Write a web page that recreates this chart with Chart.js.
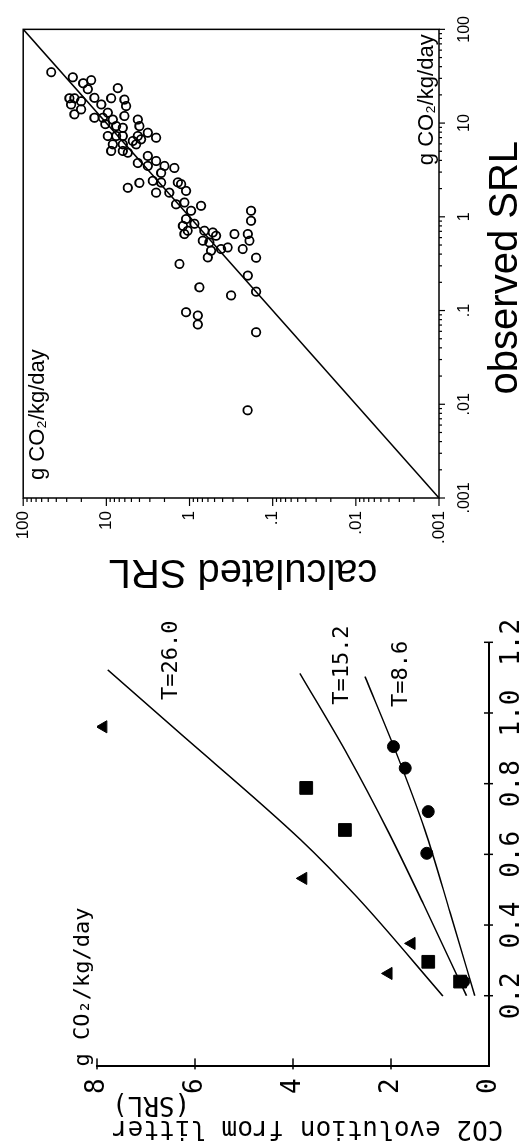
<!DOCTYPE html>
<html>
<head>
<meta charset="utf-8">
<script src="https://cdn.jsdelivr.net/npm/chart.js@4.4.0/dist/chart.umd.min.js"></script>
<style>
  html, body { margin: 0; padding: 0; background: #fff; }
  body { width: 520px; height: 1143px; overflow: hidden; position: relative; }
  /* the figure is laid out landscape and turned a quarter left */
  #stage { position: absolute; left: 0; top: 0; width: 1143px; height: 520px;
           transform-origin: 0 0; transform: translate(0px, 1143px) rotate(-90deg); }
  #rateChart { position: absolute; left: 0; top: 0; }
  #srlChart { position: absolute; left: 535px; top: 0; }
</style>
</head>
<body>
<div id="stage">
  <canvas id="rateChart" width="535" height="520"></canvas>
  <canvas id="srlChart" width="608" height="520"></canvas>
</div>
<script>
// ---- left panel: CO2 evolution from litter ----
const xTickValues = [0.2, 0.4, 0.6, 0.8, 1.0, 1.2];
const xTickLabels = ['0.2', '0.4', '0.6', '0.8', '1.0', '1.2'];
const yTickValues = [0, 2, 4, 6, 8];
const yTickLabels = ['0', '2', '4', '6', '8'];
const rateUnit = 'g CO₂/kg/day';
const rateTitle = ['CO2 evolution from litter', '(SRL)'];

// measured points (triangles, squares, dots)
const triX = [0.961, 0.532, 0.348, 0.263];
const triY = [7.87, 3.79, 1.58, 2.05];
const sqX = [0.788, 0.669, 0.296, 0.240];
const sqY = [3.73, 2.94, 1.24, 0.59];
const dotX = [0.905, 0.844, 0.721, 0.603, 0.240];
const dotY = [1.95, 1.71, 1.24, 1.27, 0.52];

// fitted curves
const curveNames = ['T=26.0', 'T=15.2', 'T=8.6'];
const t26X = [0.199, 0.480, 0.641, 0.960, 1.122];
const t26Y = [0.94, 2.70, 3.84, 6.45, 7.78];
const t15X = [0.200, 0.460, 0.660, 0.880, 1.112];
const t15Y = [0.46, 1.34, 2.04, 2.88, 3.86];
const t8X = [0.200, 0.434, 0.670, 0.890, 1.103];
const t8Y = [0.29, 0.79, 1.31, 1.90, 2.53];
const curveLabelX = [1.037, 1.023, 1.017];
const curveLabelY = [6.37, 2.88, 1.67];

// ---- right panel: calculated vs observed SRL ----
const logTickValues = [0.001, 0.01, 0.1, 1, 10, 100];
const logTickLabels = ['.001', '.01', '.1', '1', '10', '100'];
const srlUnit = 'g CO₂/kg/day';
const observed = [34.9, 30.8, 26.6, 28.7, 18.4, 18.4, 15.8, 17.1, 14.0, 12.4,
  18.6, 15.8, 18.4, 23.6, 17.8, 15.2, 11.4, 11.4, 12.9, 10.9,
  11.9, 10.9, 9.29, 9.29, 8.91, 7.28, 7.28, 7.28, 7.89, 6.98,
  7.28, 6.71, 5.93, 5.93, 5.04, 5.04, 5.93, 4.83, 4.46, 3.75,
  3.49, 3.94, 3.49, 3.32, 2.30, 2.42, 2.32, 2.33, 2.04, 1.81,
  1.81, 1.89, 2.23, 1.36, 1.42, 1.31, 1.16, 0.946, 0.80, 0.71,
  0.655, 0.314, 0.71, 0.681, 0.556, 0.533, 0.435, 0.369, 0.453, 0.471,
  0.655, 0.655, 0.556, 0.453, 1.16, 0.906, 0.366, 0.236, 0.159, 0.177,
  0.145, 0.096, 0.0885, 0.071, 0.0587, 0.00863, 23.0, 9.75, 2.94, 0.843,
  0.628, 6.44];
const calculated = [46.0, 25.3, 19.0, 15.2, 27.8, 24.2, 26.5, 20.1, 20.1, 24.2,
  13.9, 11.5, 8.75, 7.28, 6.06, 5.78, 13.9, 11.0, 9.6, 8.36,
  6.06, 4.18, 4.0, 7.62, 6.34, 9.6, 7.62, 6.34, 3.17, 2.52,
  4.18, 3.82, 8.36, 6.34, 8.75, 6.34, 4.38, 5.52, 3.17, 4.18,
  3.17, 2.52, 2.0, 1.52, 4.0, 2.76, 2.19, 1.38, 5.52, 2.52,
  1.75, 1.10, 1.26, 1.45, 1.15, 0.726, 0.957, 1.10, 1.20, 1.05,
  1.15, 1.32, 0.662, 0.525, 0.692, 0.577, 0.55, 0.603, 0.417, 0.347,
  0.288, 0.199, 0.19, 0.229, 0.182, 0.182, 0.158, 0.199, 0.158, 0.76,
  0.316, 1.10, 0.794, 0.794, 0.158, 0.20, 16.7, 10.3, 2.19, 0.873,
  0.479, 4.81];
const oneToOne = [0.001, 100];

const monoFont = '"DejaVu Sans Mono", monospace';
const sansFont = '"Liberation Sans", Arial, sans-serif';

function pairs(xs, ys) {
  return xs.map((v, i) => ({ x: v, y: ys[i] }));
}

function isDecade(v) {
  const l = Math.log10(v);
  return Math.abs(l - Math.round(l)) < 1e-9;
}

// ticks across the axes, unit, curve names and the two-line title
const rateExtras = {
  id: 'rateExtras',
  afterDraw(chart) {
    const { ctx, chartArea: a, scales: { x, y } } = chart;
    ctx.save();
    ctx.strokeStyle = '#000';
    ctx.lineWidth = 1.5;
    x.ticks.forEach(t => {
      const p = x.getPixelForValue(t.value);
      ctx.beginPath(); ctx.moveTo(p, a.bottom - 5); ctx.lineTo(p, a.bottom + 4); ctx.stroke();
    });
    y.ticks.forEach(t => {
      if (t.value === 0) return;
      const p = y.getPixelForValue(t.value);
      ctx.beginPath(); ctx.moveTo(a.left - 3, p); ctx.lineTo(a.left + 8, p); ctx.stroke();
    });
    ctx.fillStyle = '#000';
    ctx.textBaseline = 'alphabetic';
    ctx.textAlign = 'left';
    ctx.font = '22px ' + monoFont;
    ctx.fillText(rateUnit, a.left, a.top - 8);
    curveNames.forEach((name, i) => {
      ctx.fillText(name, x.getPixelForValue(curveLabelX[i]), y.getPixelForValue(curveLabelY[i]));
    });
    ctx.font = '26px ' + monoFont;
    ctx.translate(22, a.top + 15);
    ctx.rotate(-Math.PI / 2);
    ctx.textAlign = 'right';
    ctx.fillText(rateTitle[0], 0, 0);
    ctx.fillText(rateTitle[1], 0, 24);
    ctx.restore();
  }
};

// box, log ticks, units and axis titles
const srlExtras = {
  id: 'srlExtras',
  afterDraw(chart) {
    const { ctx, chartArea: a, scales: { x, y } } = chart;
    ctx.save();
    ctx.strokeStyle = '#000';
    ctx.lineWidth = 1.5;
    ctx.strokeRect(a.left, a.top, a.right - a.left, a.bottom - a.top);
    ctx.lineWidth = 1.2;
    x.ticks.forEach(t => {
      const p = x.getPixelForValue(t.value);
      const len = isDecade(t.value) ? 6 : 3;
      ctx.beginPath(); ctx.moveTo(p, a.bottom); ctx.lineTo(p, a.bottom + len); ctx.stroke();
    });
    y.ticks.forEach(t => {
      const p = y.getPixelForValue(t.value);
      const len = isDecade(t.value) ? 8 : 4;
      ctx.beginPath(); ctx.moveTo(a.left, p); ctx.lineTo(a.left - len, p); ctx.stroke();
    });
    ctx.fillStyle = '#000';
    ctx.textBaseline = 'alphabetic';
    ctx.font = '22px ' + sansFont;
    ctx.textAlign = 'left';
    ctx.fillText(srlUnit, a.left + 18, a.top + 21);
    ctx.textAlign = 'right';
    ctx.fillText(srlUnit, a.right - 5, a.bottom - 6);
    ctx.font = '40px ' + sansFont;
    ctx.textAlign = 'center';
    ctx.fillText('observed SRL', (a.left + a.right) / 2 - 4, 517);
    ctx.translate(48, (a.top + a.bottom) / 2 + 12);
    ctx.rotate(-Math.PI / 2);
    ctx.fillText('calculated SRL', 0, 0);
    ctx.restore();
  }
};

const curveStyle = { showLine: true, borderColor: '#000', borderWidth: 1.5, pointRadius: 0,
                     cubicInterpolationMode: 'monotone' };
const markStyle = { backgroundColor: '#000', borderColor: '#000', borderWidth: 1, showLine: false };

new Chart(document.getElementById('rateChart'), {
  type: 'scatter',
  data: {
    datasets: [
      { label: curveNames[0], data: pairs(t26X, t26Y), ...curveStyle },
      { label: curveNames[1], data: pairs(t15X, t15Y), ...curveStyle },
      { label: curveNames[2], data: pairs(t8X, t8Y), ...curveStyle },
      { label: 'triangles', data: pairs(triX, triY), pointStyle: 'triangle', pointRadius: 7, ...markStyle },
      { label: 'dots', data: pairs(dotX, dotY), pointStyle: 'circle', pointRadius: 6, ...markStyle },
      { label: 'squares', data: pairs(sqX, sqY), pointStyle: 'rect', pointRadius: 9, ...markStyle }
    ]
  },
  options: {
    responsive: false,
    animation: false,
    layout: { padding: { left: 0, top: 97, right: 34.3, bottom: 0 } },
    plugins: { legend: { display: false }, tooltip: { enabled: false } },
    scales: {
      x: {
        type: 'linear', min: 0, max: 1.2,
        grid: { display: false, drawTicks: false },
        border: { display: true, color: '#000', width: 2 },
        afterBuildTicks: s => { s.ticks = xTickValues.map(v => ({ value: v })); },
        afterFit: s => { s.height = 31; },
        ticks: { callback: (v, i) => xTickLabels[i], color: '#000', padding: 8,
                 font: { family: monoFont, size: 26 }, maxRotation: 0, autoSkip: false }
      },
      y: {
        type: 'linear', min: 0, max: 8,
        grid: { display: false, drawTicks: false },
        border: { display: true, color: '#000', width: 2 },
        afterBuildTicks: s => { s.ticks = yTickValues.map(v => ({ value: v })); },
        afterFit: s => { s.width = 76.6; },
        ticks: { callback: (v, i) => yTickLabels[i], color: '#000', padding: 12,
                 font: { family: monoFont, size: 26 }, autoSkip: false }
      }
    }
  },
  plugins: [rateExtras]
});

function logTicks(s) {
  const list = [];
  for (let i = 0; i < logTickValues.length - 1; i++) {
    for (let k = 1; k < 10; k++) list.push({ value: k * logTickValues[i] });
  }
  list.push({ value: logTickValues[logTickValues.length - 1] });
  s.ticks = list;
}

function logLabel(v) {
  if (!isDecade(v)) return '';
  return logTickLabels[Math.round(Math.log10(v)) + 3];
}

new Chart(document.getElementById('srlChart'), {
  type: 'scatter',
  data: {
    datasets: [
      { label: '1:1', data: pairs(oneToOne, oneToOne), showLine: true, borderColor: '#000',
        borderWidth: 1.5, pointRadius: 0 },
      { label: 'SRL', data: pairs(observed, calculated), pointStyle: 'circle', pointRadius: 4.2,
        backgroundColor: 'rgba(0,0,0,0)', borderColor: '#000', borderWidth: 1.8, showLine: false }
    ]
  },
  options: {
    responsive: false,
    animation: false,
    layout: { padding: { left: 0, top: 22, right: 28, bottom: 0 } },
    plugins: { legend: { display: false }, tooltip: { enabled: false } },
    scales: {
      x: {
        type: 'logarithmic', min: 0.001, max: 100,
        grid: { display: false, drawTicks: false },
        border: { display: false },
        afterBuildTicks: logTicks,
        afterFit: s => { s.height = 81; },
        ticks: { callback: v => logLabel(v), color: '#000', padding: 16,
                 font: { family: sansFont, size: 16 }, maxRotation: 0, autoSkip: false }
      },
      y: {
        type: 'logarithmic', min: 0.001, max: 100,
        grid: { display: false, drawTicks: false },
        border: { display: false },
        afterBuildTicks: logTicks,
        afterFit: s => { s.width = 110; },
        ticks: { callback: v => logLabel(v), color: '#000', padding: 13,
                 font: { family: sansFont, size: 17 }, autoSkip: false }
      }
    }
  },
  plugins: [srlExtras]
});
</script>
</body>
</html>
